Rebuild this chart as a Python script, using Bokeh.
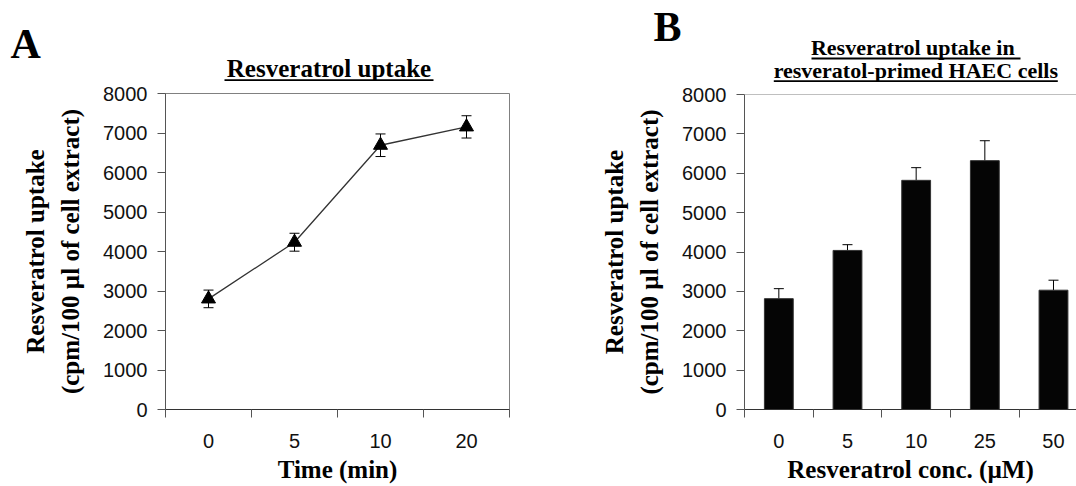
from bokeh.plotting import figure
from bokeh.models import (Range1d, FixedTicker, Whisker, TeeHead, ColumnDataSource,
                          Label, BoxAnnotation, Span)
from bokeh.layouts import row, column
from bokeh.embed import file_html
from bokeh.resources import INLINE

# ---------------- data ----------------
time_labels = ["0", "5", "10", "20"]
uptake_time = [2800, 4235, 6690, 7155]
sem_time = [223, 227, 286, 282]

conc_labels = ["0", "5", "10", "25", "50"]
uptake_conc = [2815, 4040, 5820, 6320, 3030]
sem_conc = [254, 146, 322, 506, 254]

y_ticks = [0, 1000, 2000, 3000, 4000, 5000, 6000, 7000, 8000]

y_label = "Resveratrol uptake\n(cpm/100 \u00b5l of cell extract)"
title_a = "Resveratrol uptake"
title_b1 = "Resveratrol uptake in"
title_b2 = "resveratol-primed HAEC cells"

SERIF = "Liberation Serif"
SANS = "Liberation Sans"
AXIS_COLOR = "#555555"


def centers(labels):
    return [2 * i + 1 for i in range(len(labels))]


def bounds(labels):
    return [2 * i for i in range(len(labels) + 1)]


def style(p, labels, xlabel):
    p.grid.visible = False
    p.background_fill_color = "white"
    p.border_fill_color = "white"
    xa = p.xaxis[0]
    xa.ticker = FixedTicker(ticks=centers(labels), minor_ticks=bounds(labels))
    xa.major_label_overrides = {c: l for c, l in zip(centers(labels), labels)}
    xa.major_tick_line_color = None
    xa.major_tick_out = 0
    xa.major_tick_in = 0
    xa.minor_tick_line_color = AXIS_COLOR
    xa.minor_tick_out = 8
    xa.minor_tick_in = 0
    xa.major_label_standoff = 16
    xa.axis_line_color = "#333333"
    xa.major_label_text_font = SANS
    xa.major_label_text_font_size = "20px"
    xa.major_label_text_color = "#111111"
    xa.axis_label = xlabel
    xa.axis_label_text_font = SERIF
    xa.axis_label_text_font_size = "25px"
    xa.axis_label_text_font_style = "bold"
    xa.axis_label_text_color = "black"
    xa.axis_label_standoff = 5

    ya = p.yaxis[0]
    ya.ticker = FixedTicker(ticks=y_ticks, minor_ticks=[])
    ya.major_tick_out = 8
    ya.major_tick_in = 0
    ya.major_tick_line_color = AXIS_COLOR
    ya.axis_line_color = AXIS_COLOR
    ya.major_label_standoff = 10
    ya.major_label_text_font = SANS
    ya.major_label_text_font_size = "20px"
    ya.major_label_text_color = "#111111"
    ya.axis_label = y_label
    ya.axis_label_text_font = SERIF
    ya.axis_label_text_font_size = "25px"
    ya.axis_label_text_font_style = "bold"
    ya.axis_label_text_color = "black"
    ya.axis_label_text_line_height = 1.3
    ya.axis_label_standoff = 16


def header(width, height):
    h = figure(width=width, height=height, x_range=Range1d(0, 1), y_range=Range1d(0, 1),
               x_axis_type=None, y_axis_type=None, output_backend="svg",
               toolbar_location=None, min_border=0, min_border_left=0,
               min_border_right=0, min_border_top=0, min_border_bottom=0,
               frame_align=False)
    h.outline_line_color = None
    h.grid.visible = False
    h.background_fill_color = "white"
    h.border_fill_color = "white"
    return h


def text_label(p, x, baseline, text, size_px, align="center"):
    # Bokeh places the alphabetic baseline ~0.375 em lower than requested
    y = baseline + 0.375 * size_px
    p.add_layout(Label(x=x, y=y, x_units="screen", y_units="screen", text=text,
                       text_font=SERIF, text_font_style="bold",
                       text_font_size=f"{size_px}px",
                       text_color="black", text_align=align,
                       text_baseline="alphabetic"))


def underline(p, left, right, bottom, top):
    p.add_layout(BoxAnnotation(left=left, right=right, bottom=bottom, top=top,
                               left_units="screen", right_units="screen",
                               bottom_units="screen", top_units="screen",
                               fill_color="black", fill_alpha=1.0,
                               line_color=None))


# ---------------- panel A ----------------
hA = header(540, 81)
text_label(hA, 10, 21.7, "A", 42, align="left")
text_label(hA, 328.5, 3.3, title_a, 25)
underline(hA, 224, 433, 0.3, 2.3)

pA = figure(width=540, height=405, x_range=Range1d(0, 2 * len(time_labels)),
            y_range=Range1d(0, 8000), output_backend="svg", toolbar_location=None,
            min_border_left=165, min_border_right=31, min_border_top=12,
            min_border_bottom=77, frame_align=False)
style(pA, time_labels, "Time (min)")
pA.outline_line_color = "#808080"
pA.outline_line_width = 1

xa_pos = centers(time_labels)
pA.line(x=xa_pos, y=uptake_time, line_color="#333333", line_width=1.3)
srcA = ColumnDataSource(dict(
    x=xa_pos,
    upper=[v + e for v, e in zip(uptake_time, sem_time)],
    lower=[v - e for v, e in zip(uptake_time, sem_time)],
))
pA.add_layout(Whisker(source=srcA, base="x", upper="upper", lower="lower",
                      dimension="height", line_color="black", line_width=1,
                      upper_head=TeeHead(size=10, line_color="black", line_width=1),
                      lower_head=TeeHead(size=10, line_color="black", line_width=1)))
pA.scatter(x=xa_pos, y=uptake_time, marker="triangle", size=14,
           fill_color="black", line_color="black")

# ---------------- panel B ----------------
hB = header(536, 82)
text_label(hB, 113, 39.3, "B", 42, align="left")
text_label(hB, 372.3, 26.7, title_b1, 22)
underline(hB, 271, 480, 23, 25)
text_label(hB, 375.3, 4.1, title_b2, 22)
underline(hB, 233.3, 517.3, 0.3, 2.3)

pB = figure(width=536, height=404, x_range=Range1d(0, 9.67),
            y_range=Range1d(0, 8000), output_backend="svg", toolbar_location=None,
            min_border_left=204, min_border_right=0, min_border_top=12,
            min_border_bottom=77, frame_align=False)
style(pB, conc_labels, "Resveratrol conc. (\u00b5M)")
pB.outline_line_color = None
pB.add_layout(Span(location=8000, dimension="width", line_color="#808080",
                   line_width=1))

xb_pos = centers(conc_labels)
pB.vbar(x=xb_pos, top=uptake_conc, bottom=0, width=0.84,
        fill_color="#050505", line_color="#333333", line_width=1)
srcB = ColumnDataSource(dict(
    x=xb_pos,
    upper=[v + e for v, e in zip(uptake_conc, sem_conc)],
    lower=list(uptake_conc),
))
pB.add_layout(Whisker(source=srcB, base="x", upper="upper", lower="lower",
                      dimension="height", line_color="black", line_width=1,
                      upper_head=TeeHead(size=10, line_color="black", line_width=1),
                      lower_head=None))

layout = row(column(hA, pA), column(hB, pB))
open("out.html", "w").write(file_html(layout, INLINE))
